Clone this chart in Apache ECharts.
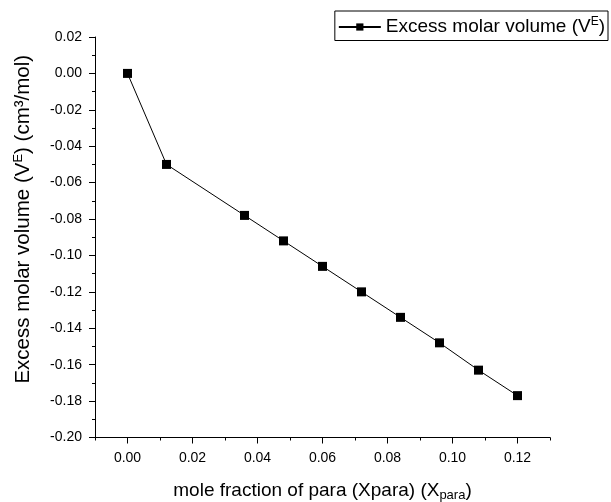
<!DOCTYPE html>
<html><head><meta charset="utf-8">
<script src="https://cdn.jsdelivr.net/npm/echarts@6/dist/echarts.min.js"></script>
<style>html,body{margin:0;padding:0;background:#fff}#c{width:611px;height:502px}</style>
</head><body><div id="c"></div>
<script>
const xValues = [0.000, 0.012, 0.036, 0.048, 0.060, 0.072, 0.084, 0.096, 0.108, 0.120];
const yValues = [0.000, -0.050, -0.078, -0.092, -0.106, -0.120, -0.134, -0.148, -0.163, -0.177];
const xTickLabels = [0.00, 0.02, 0.04, 0.06, 0.08, 0.10, 0.12];
const seriesName = 'Excess molar volume (VE)';

const FONT = 'Liberation Sans, Arial, sans-serif';
const chart = echarts.init(document.getElementById('c'), null, {renderer: 'canvas'});
chart.setOption({
  animation: false,
  backgroundColor: '#fff',
  grid: {left: 95, top: 37, right: 61, bottom: 64.5, containLabel: false, outerBoundsMode: 'none'},
  legend: {
    right: 3, top: 11,
    data: [seriesName],
    borderColor: '#000', borderWidth: 1, borderRadius: 0,
    padding: [5, 3, 4, 3],
    itemWidth: 42, itemHeight: 9, itemGap: 0,
    formatter: () => '{a|Excess molar volume (V}{s|E}{a|)}',
    textStyle: {
      fontFamily: FONT, fontSize: 19, color: '#000',
      rich: {
        a: {fontFamily: FONT, fontSize: 19, color: '#000'},
        s: {fontFamily: FONT, fontSize: 12, color: '#000', verticalAlign: 'top', padding: [0, 0, 10, 0]}
      }
    }
  },
  xAxis: [{
    type: 'value', min: -0.01, max: 0.13,
    axisLine: {show: true, onZero: false, lineStyle: {color: '#000', width: 1}},
    splitLine: {show: false},
    axisTick: {show: true, inside: false, length: 6, customValues: xTickLabels, lineStyle: {color: '#000'}},
    axisLabel: {customValues: xTickLabels, fontFamily: FONT, fontSize: 14, color: '#000', margin: 14,
      formatter: v => v.toFixed(2)},
    name: '{a|mole fraction of para (Xpara) (X}{b|para}{a|)}',
    nameLocation: 'middle', nameGap: 42,
    nameTextStyle: {
      rich: {
        a: {fontFamily: FONT, fontSize: 19, color: '#000'},
        b: {fontFamily: FONT, fontSize: 13, color: '#000', verticalAlign: 'bottom', padding: [9, 0, 0, 0]}
      }
    }
  }, {
    type: 'value', min: -0.01, max: 0.13, interval: 0.01, position: 'bottom',
    axisLine: {show: false, onZero: false}, splitLine: {show: false},
    axisLabel: {show: false},
    axisTick: {show: true, length: 3, lineStyle: {color: '#000'}}
  }],
  yAxis: {
    type: 'value', min: -0.20, max: 0.02, interval: 0.02,
    axisLine: {show: true, onZero: false, lineStyle: {color: '#000', width: 1}},
    splitLine: {show: false},
    axisTick: {show: true, inside: false, length: 6, lineStyle: {color: '#000'}},
    minorTick: {show: true, splitNumber: 2, length: 3, lineStyle: {color: '#000'}},
    axisLabel: {fontFamily: FONT, fontSize: 14, color: '#000', margin: 13,
      formatter: v => (Math.abs(v) < 1e-9 ? 0 : v).toFixed(2)},
    name: '{a|Excess molar volume (V}{s|E}{a|) (cm³/mol)}',
    nameLocation: 'middle', nameGap: 60, nameRotate: 90,
    nameTextStyle: {
      padding: [0, 0, 0, 36],
      rich: {
        a: {fontFamily: FONT, fontSize: 20.5, color: '#000'},
        s: {fontFamily: FONT, fontSize: 13, color: '#000', verticalAlign: 'top', padding: [0, 0, 10, 0]}
      }
    }
  },
  series: [{
    name: seriesName,
    type: 'line',
    xAxisIndex: 0,
    data: xValues.map((x, i) => [x, yValues[i]]),
    symbol: 'rect', symbolSize: 9,
    lineStyle: {color: '#000', width: 1},
    itemStyle: {color: '#000'}
  }]
});
</script></body></html>
